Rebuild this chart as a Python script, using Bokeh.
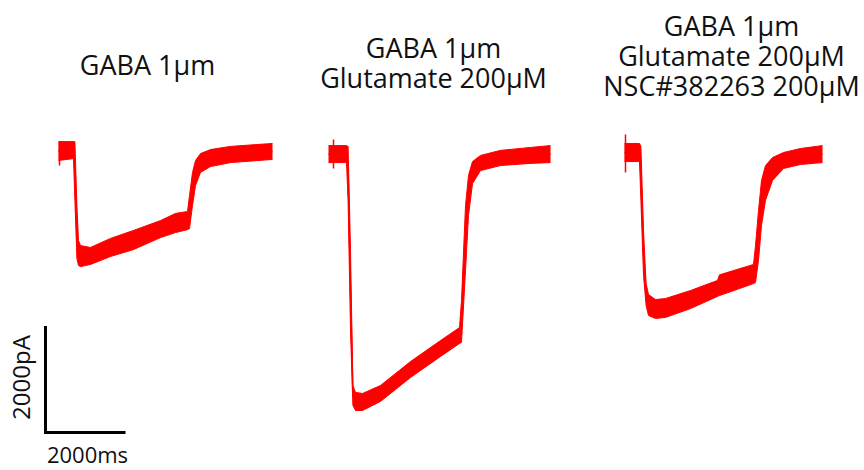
import math
from bokeh.plotting import figure
from bokeh.models import Range1d
from bokeh.core.properties import value
from bokeh.embed import file_html
from bokeh.resources import INLINE

# ---- data (time in ms from trace start, current in pA relative to baseline) ----
TITLES = [
    ["GABA 1\u00b5m"],
    ["GABA 1\u00b5m", "Glutamate 200\u00b5M"],
    ["GABA 1\u00b5m", "Glutamate 200\u00b5M", "NSC#382263 200\u00b5M"],
]

T1_MS = [0, 375, 410, 460, 500, 550, 800, 1300, 1875, 2550, 2925, 3225, 3275, 3350, 3425, 3550, 3800, 4300, 5350]
T1_HI = [205, 205, 205, -995, -1655, -1750, -1785, -1615, -1465, -1280, -1145, -1110, -810, -375, -150, -20, 55, 115, 170]
T1_LO = [-150, -115, -900, -1995, -2125, -2145, -2105, -1955, -1825, -1600, -1505, -1450, -1430, -995, -620, -375, -265, -190, -130]

T2_MS = [0, 450, 490, 550, 610, 675, 850, 1300, 2050, 2800, 3275, 3325, 3425, 3500, 3600, 3800, 4300, 5050, 5550]
T2_HI = [130, 130, 115, -1840, -4380, -4510, -4530, -4380, -3930, -3535, -3290, -2780, -995, -430, -170, -55, 40, 95, 130]
T2_LO = [-190, -190, -900, -3345, -4755, -4850, -4850, -4680, -4230, -3835, -3590, -3570, -2220, -1185, -585, -340, -245, -205, -190]

T3_MS = [0, 375, 410, 475, 540, 600, 775, 1025, 1650, 2325, 2375, 3225, 3275, 3350, 3425, 3525, 3700, 3975, 4400, 4950]
T3_HI = [170, 170, 115, -1465, -2465, -2670, -2765, -2745, -2595, -2405, -2300, -2105, -1750, -1090, -525, -245, -95, 0, 75, 130]
T3_LO = [-170, -170, -900, -2310, -2875, -3065, -3120, -3100, -2935, -2705, -2690, -2465, -2445, -2030, -1370, -900, -525, -300, -225, -190]

# baseline artefact spikes: time, top, bottom
SPIKE_MS = [25, 125, 25]
SPIKE_HI = [205, 245, 340]
SPIKE_LO = [-245, -300, -375]

SCALE_MS = 2000
SCALE_PA = 2000
SCALE_LABELS = ["2000ms", "2000pA"]

# ---- layout (page pixels -> data units) ----
MS_PER_PX = 25.0
PA_PER_PX = 18.8
X0_PX = 58
BASE_PY = 152

def px_x(px):
    return (px - X0_PX) * MS_PER_PX

def px_y(py):
    return (BASE_PY - py) * PA_PER_PX

PANEL_START_PX = [58, 328, 624]
TITLE_CX = [147, 433, 731]
TITLE_BASE = [[64], [47, 77], [25, 55, 85]]

W, H = 864, 470
p = figure(width=W, height=H, x_range=Range1d(px_x(0), px_x(W)),
           y_range=Range1d(px_y(H), px_y(0)),
           toolbar_location=None, output_backend="svg",
           x_axis_location=None, y_axis_location=None, min_border=0)
p.grid.visible = False
p.outline_line_color = None
p.background_fill_color = "white"
p.border_fill_color = "white"

RED = "#ff0000"
traces = [(T1_MS, T1_HI, T1_LO), (T2_MS, T2_HI, T2_LO), (T3_MS, T3_HI, T3_LO)]
for i, (ts, hi, lo) in enumerate(traces):
    off = px_x(PANEL_START_PX[i])
    xs = [t + off for t in ts]
    p.varea(x=xs, y1=lo, y2=hi, fill_color=RED)
    p.line(xs, hi, line_color=RED, line_width=1)
    p.line(xs, lo, line_color=RED, line_width=1)
    mid = [(a + b) / 2 for a, b in zip(hi, lo)]
    p.line(xs, mid, line_color=RED, line_width=1.5)
    sx = SPIKE_MS[i] + off
    p.segment(x0=[sx], y0=[SPIKE_LO[i]], x1=[sx], y1=[SPIKE_HI[i]],
              line_color=RED, line_width=1.5)

FONT = value("Open Sans")
for i, lines in enumerate(TITLES):
    for j, txt in enumerate(lines):
        p.text(x=[px_x(TITLE_CX[i])], y=[px_y(TITLE_BASE[i][j])], text=[txt],
               text_font=FONT, text_font_size="27px", text_color="#111111",
               text_align="center", text_baseline="alphabetic")

# scale bar
cx, cy = px_x(45), px_y(432)
p.line([cx, cx, cx + SCALE_MS], [cy + SCALE_PA, cy, cy], line_color="black",
       line_width=3, line_join="miter")
p.text(x=[px_x(87)], y=[px_y(453)], text=[SCALE_LABELS[0]], text_font=FONT,
       text_font_size="22px", text_color="#111111", text_align="center",
       text_baseline="alphabetic")
p.text(x=[px_x(20)], y=[px_y(377)], text=[SCALE_LABELS[1]], text_font=FONT,
       text_font_size="24px", text_color="#111111", text_align="center",
       text_baseline="middle", angle=math.pi / 2)

open("out.html", "w").write(file_html(p, INLINE))
